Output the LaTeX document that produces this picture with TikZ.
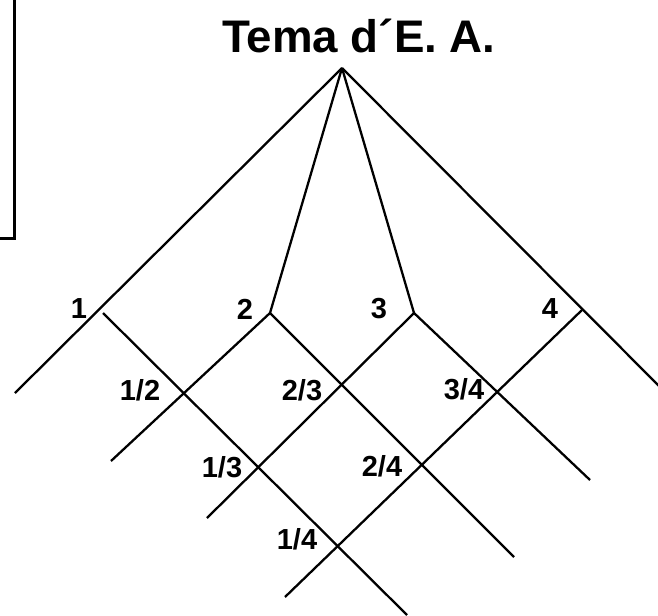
\documentclass[tikz,border=0pt]{standalone}
\usepackage{fontspec}
\setmainfont{Liberation Sans}
\begin{document}
\begin{tikzpicture}[
	x=0.02cm, y=-0.02cm,
	edge/.style={line width=1.3pt},
	frame/.style={line width=1.7pt},
	lbl/.style={inner sep=0pt, font=\fontsize{16.5}{18}\selectfont\bfseries},
	heading/.style={inner sep=0pt, anchor=base, font=\fontsize{26}{28}\selectfont\bfseries}
]
\clip (0,0) rectangle (658,615);

% Box cut by the left page edge
\draw[frame] (-30,-30) rectangle (14.5,238.5);

% Title
\node[heading] (tema) at (359,52) {Tema d´E. A.};

% Top points
\coordinate (apex) at (342,68);
\coordinate (p2)   at (270,313);
\coordinate (p3)   at (414,313);
\coordinate (p4)   at (582,310);
\coordinate (s1)   at (103,313);

% Free ends
\coordinate (lend) at (15,393);
\coordinate (rend) at (662,389);
\coordinate (e1)   at (407,615);
\coordinate (e2l)  at (111,461);
\coordinate (e2r)  at (514,557);
\coordinate (e3l)  at (207,518);
\coordinate (e3r)  at (590,480);
\coordinate (e4l)  at (285,597);

% Branches from the apex
\draw[edge] (apex) -- (lend);
\draw[edge] (apex) -- (rend);
\draw[edge] (apex) -- (p2);
\draw[edge] (apex) -- (p3);

% Crossing lines
\draw[edge] (s1) -- (e1);
\draw[edge] (p2) -- (e2l);
\draw[edge] (p2) -- (e2r);
\draw[edge] (p3) -- (e3l);
\draw[edge] (p3) -- (e3r);
\draw[edge] (p4) -- (e4l);

% Labels
\node[lbl] (l1)  at (79,309)  {1};
\node[lbl] (l2)  at (245,309) {2};
\node[lbl] (l3)  at (379,309) {3};
\node[lbl] (l4)  at (550,309) {4};
\node[lbl] (l12) at (140,390) {1/2};
\node[lbl] (l23) at (302,390) {2/3};
\node[lbl] (l34) at (464,389) {3/4};
\node[lbl] (l13) at (222,467) {1/3};
\node[lbl] (l24) at (382,466) {2/4};
\node[lbl] (l14) at (297,539) {1/4};

\end{tikzpicture}
\end{document}
